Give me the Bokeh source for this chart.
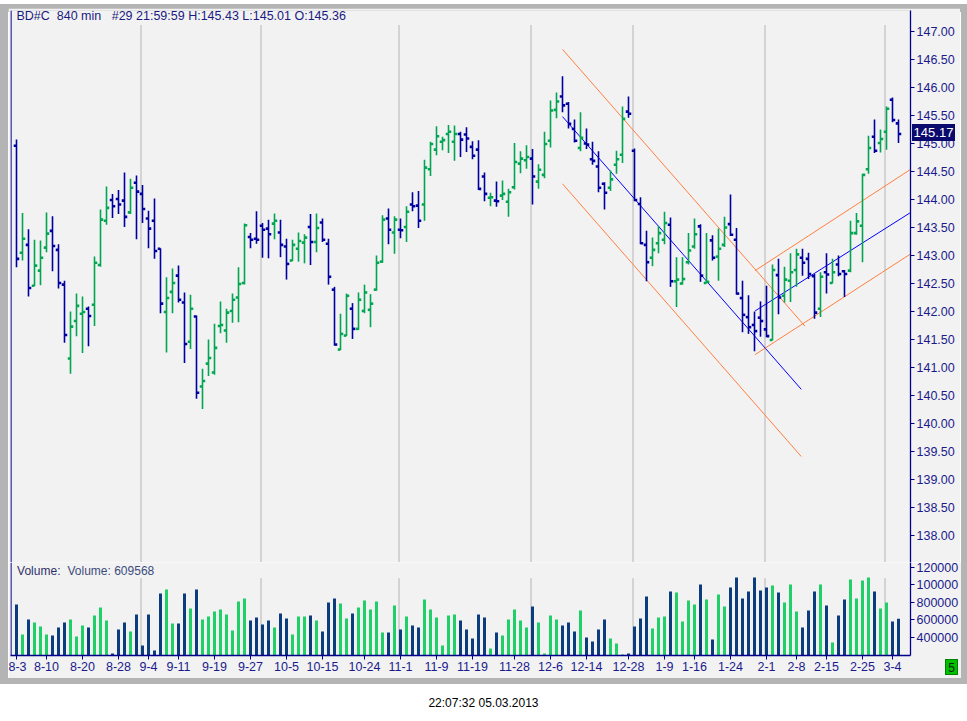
from bokeh.plotting import figure
from bokeh.models import (Range1d, FixedTicker, PrintfTickFormatter, Span, Label,
                          ColumnDataSource, Div)
from bokeh.layouts import column, row
from bokeh.embed import file_html
from bokeh.resources import INLINE

# ---------------- data ----------------
opens = [
    144.96, 143.05, 143.19, 142.46, 142.73, 143.14, 143.44, 143.10, 142.48, 141.16,
    141.83, 141.96, 142.05, 142.12, 142.83, 143.62, 143.99, 144.01, 143.98, 143.77,
    144.30, 144.10, 143.66, 143.62, 143.12, 141.99, 142.35, 142.64, 142.16, 141.46,
    141.91, 140.66, 141.07, 140.91, 141.74, 141.66, 142.01, 142.25, 142.51, 143.33,
    143.30, 143.53, 143.48, 143.57, 143.41, 143.16, 142.91, 143.12, 143.23, 143.51,
    143.24, 143.59, 143.21, 142.39, 141.32, 141.57, 142.05, 141.69, 142.01, 142.03,
    142.39, 142.89, 143.66, 143.41, 143.46, 143.51, 143.91, 143.89, 143.91, 144.54,
    144.89, 145.03, 145.17, 145.03, 145.17, 145.16, 144.94, 144.89, 144.41, 144.03,
    143.98, 144.07, 143.96, 144.22, 144.64, 144.70, 144.73, 144.32, 144.44, 145.05,
    145.60, 145.84, 145.71, 145.26, 144.92, 145.00, 144.72, 144.59, 144.28, 144.21,
    144.62, 144.80, 145.57, 144.87, 143.92, 143.19, 142.96, 143.22, 143.28, 143.55,
    142.54, 142.50, 142.88, 143.16, 143.52, 142.51, 143.27, 142.98, 143.19, 143.56,
    143.28, 142.24, 141.90, 141.76, 141.89, 141.68, 141.49, 142.65, 142.28, 142.55,
    142.74, 142.96, 142.94, 142.63, 142.05, 142.70, 142.51, 142.84, 142.72, 142.73,
    143.40, 143.53, 144.54, 145.12, 145.01, 145.21, 145.78, 145.36]

highs = [
    145.07, 143.76, 143.47, 143.28, 143.27, 143.77, 143.70, 143.20, 142.55, 142.00,
    142.32, 142.27, 142.09, 142.98, 143.82, 144.23, 144.10, 144.17, 144.48, 144.37,
    144.43, 144.26, 143.80, 144.02, 143.13, 142.61, 142.77, 142.82, 142.34, 142.30,
    141.93, 140.98, 141.50, 141.78, 142.18, 142.05, 142.32, 142.79, 143.57, 143.40,
    143.79, 143.58, 143.64, 143.75, 143.64, 143.30, 143.28, 143.41, 143.38, 143.74,
    143.75, 143.66, 143.30, 142.44, 141.96, 142.32, 142.15, 142.34, 142.48, 142.31,
    143.00, 143.72, 143.84, 143.70, 143.66, 143.88, 144.13, 144.15, 144.71, 145.03,
    145.31, 145.12, 145.33, 145.32, 145.21, 145.29, 145.04, 145.06, 144.48, 144.12,
    144.32, 144.34, 144.19, 145.01, 144.86, 144.97, 144.90, 144.63, 145.21, 145.77,
    145.91, 146.20, 145.74, 145.43, 145.56, 145.27, 145.03, 144.86, 144.31, 144.52,
    144.87, 145.66, 145.84, 144.91, 144.04, 143.44, 143.32, 143.53, 143.78, 143.68,
    142.97, 142.97, 143.40, 143.66, 143.56, 143.40, 143.36, 143.48, 143.69, 144.09,
    143.49, 142.55, 142.29, 142.00, 142.18, 142.46, 142.84, 142.94, 142.80, 143.04,
    143.12, 143.12, 143.05, 142.67, 142.70, 143.04, 142.94, 143.00, 142.74, 143.62,
    143.76, 144.46, 145.14, 145.43, 145.25, 145.66, 145.82, 145.43]

lows = [
    142.79, 142.91, 142.27, 142.45, 142.47, 143.06, 142.72, 142.41, 141.44, 140.89,
    141.56, 141.26, 141.38, 141.74, 142.80, 143.55, 143.67, 143.74, 143.51, 143.74,
    143.29, 143.58, 143.13, 142.94, 141.97, 141.27, 141.97, 142.16, 141.08, 141.33,
    140.44, 140.26, 140.85, 140.87, 141.61, 141.44, 141.80, 141.81, 142.48, 143.13,
    143.21, 142.96, 142.95, 143.29, 142.97, 142.57, 142.90, 142.89, 142.86, 142.83,
    143.06, 143.24, 142.48, 141.39, 141.31, 141.56, 141.51, 141.67, 141.97, 141.72,
    142.37, 142.87, 143.20, 143.03, 143.31, 143.24, 143.79, 143.49, 143.62, 144.42,
    144.79, 144.88, 144.83, 144.69, 144.76, 144.85, 144.72, 144.17, 143.97, 143.88,
    143.87, 143.99, 143.69, 144.18, 144.47, 144.55, 143.91, 144.19, 144.38, 144.93,
    145.45, 145.56, 145.27, 145.02, 144.86, 144.90, 144.62, 144.13, 143.82, 144.15,
    144.46, 144.65, 145.46, 143.97, 143.20, 142.54, 142.81, 143.04, 143.20, 142.44,
    142.08, 142.48, 142.84, 143.12, 142.53, 142.50, 142.91, 142.55, 143.15, 143.35,
    142.30, 141.63, 141.60, 141.29, 141.55, 141.54, 141.48, 141.95, 142.16, 142.17,
    142.44, 142.64, 142.58, 141.87, 141.90, 142.32, 142.50, 142.63, 142.26, 142.70,
    143.37, 142.88, 144.46, 144.83, 144.84, 144.89, 145.38, 145.01]

closes = [
    142.94, 143.30, 142.42, 142.82, 142.96, 143.39, 143.17, 142.51, 141.58, 141.73,
    142.10, 141.99, 141.92, 142.87, 143.64, 143.85, 143.88, 143.91, 143.69, 144.21,
    144.14, 143.83, 143.48, 143.08, 142.14, 142.24, 142.51, 142.21, 141.42, 142.05,
    140.55, 140.76, 141.17, 141.35, 141.76, 141.98, 142.21, 142.49, 143.54, 143.28,
    143.28, 143.46, 143.38, 143.62, 143.19, 142.85, 143.19, 143.26, 143.32, 143.24,
    143.49, 143.28, 142.62, 141.41, 141.60, 142.28, 141.69, 142.21, 142.34, 142.14,
    142.87, 143.64, 143.46, 143.64, 143.45, 143.78, 143.88, 143.62, 144.57, 144.99,
    145.13, 145.06, 145.21, 145.17, 145.07, 145.09, 144.78, 144.19, 144.10, 144.04,
    143.97, 144.10, 144.13, 144.67, 144.73, 144.76, 144.41, 144.53, 144.99, 145.59,
    145.75, 145.68, 145.35, 145.05, 145.10, 144.98, 144.69, 144.21, 144.12, 144.36,
    144.72, 145.44, 145.53, 143.99, 143.22, 142.88, 143.10, 143.40, 143.58, 142.54,
    142.57, 142.58, 143.09, 143.38, 142.64, 142.53, 142.96, 143.12, 143.50, 143.37,
    142.32, 141.94, 141.72, 141.65, 141.83, 141.56, 142.74, 142.25, 142.57, 142.70,
    143.02, 142.87, 142.67, 141.98, 142.62, 142.66, 142.70, 142.67, 142.67, 143.40,
    143.61, 144.44, 144.92, 144.87, 145.08, 145.62, 145.42, 145.17]

volumes = [
    773800, 430900, 602300, 568000, 522300, 430900, 419400, 510900, 568000, 602300,
    408000, 533700, 510900, 648000, 739500, 590900, 213700, 488000, 568000, 465200,
    659500, 305100, 659500, 248000, 899500, 945200, 556600, 556600, 899500, 728000,
    945200, 602300, 636600, 693800, 716600, 659500, 476600, 808100, 842300, 590900,
    625200, 545200, 590900, 510900, 670900, 613700, 430900, 636600, 636600, 648000,
    590900, 465200, 796600, 842300, 785200, 613700, 670900, 739500, 819500, 716600,
    808100, 453700, 453700, 762300, 488000, 636600, 533700, 510900, 830900, 716600,
    625200, 305100, 648000, 659500, 590900, 488000, 385100, 659500, 625200, 270800,
    453700, 419400, 602300, 716600, 590900, 510900, 750900, 568000, 213700, 648000,
    602300, 533700, 568000, 465200, 705200, 396600, 350900, 488000, 602300, 385100,
    328000, 202300, 213700, 522300, 613700, 865200, 499400, 625200, 636600, 922400,
    910900, 579500, 819500, 773800, 1002400, 830900, 373700, 888100, 750900, 968100,
    1082400, 842300, 922400, 1082400, 933800, 968100, 990900, 910900, 796600, 1002400,
    693800, 510900, 705200, 922400, 1002400, 762300, 339400, 648000, 830900, 1059500,
    842300, 1048100, 1082400, 922400, 728000, 796600, 579500, 609568]

date_tick_idx = [0, 5, 11, 17, 22, 27, 33, 39, 45, 51, 58, 64, 70, 76, 83, 89,
                 95, 102, 108, 113, 119, 125, 130, 135, 141, 146]
date_tick_labels = ["8-3", "8-10", "8-20", "8-28", "9-4", "9-11", "9-19", "9-27",
                    "10-5", "10-15", "10-24", "11-1", "11-9", "11-19", "11-28",
                    "12-6", "12-14", "12-28", "1-9", "1-16", "1-24", "2-1", "2-8",
                    "2-15", "2-25", "3-4"]
month_sep_idx = [20.75, 40.75, 63.75, 85.75, 102.75, 124.75, 144.75]

price_ticks = [138.0, 138.5, 139.0, 139.5, 140.0, 140.5, 141.0, 141.5, 142.0,
               142.5, 143.0, 143.5, 144.0, 144.5, 145.0, 145.5, 146.0, 146.5, 147.0]
vol_ticks = [400000, 600000, 800000, 1000000, 1200000]
vol_tick_labels = ["400000", "600000", "800000", "100000", "120000"]

# trend channels (bar index, price)
down_x0 = [91.0, 91.0, 91.0]
down_x1 = [131.4, 130.8, 130.8]
down_y0 = [146.68, 145.48, 144.28]
down_y1 = [141.74, 140.61, 139.41]
up_x0 = [123.1, 123.1, 123.1]
up_x1 = [148.9, 148.9, 148.9]
up_y0 = [142.73, 142.01, 141.23]
up_y1 = [144.53, 143.76, 143.02]
channel_colors = ["#ff7f3f", "#0000ff", "#ff7f3f"]

title_text = "BD#C\u00a0\u00a0840 min\u00a0\u00a0\u00a0#29 21:59:59 H:145.43 L:145.01 O:145.36"
last_price = 145.17
volume_name = "Volume:"
volume_text = "Volume: 609568"
timestamp = "22:07:32 05.03.2013"
window_no = "5"

# ---------------- styling ----------------
BG = "#F2F2F2"
FRAME = "#b4b4b4"
NAVY = "#00008B"
LBL = "#1a1a8c"
FONT = "Liberation Sans"
UP_BAR, DN_BAR = "#00a651", "#0000a0"
UP_VOL, DN_VOL = "#1fd068", "#0b3c7d"

n = len(closes)
idx = list(range(n))
up = [c >= o for o, c in zip(opens, closes)]
src = ColumnDataSource(dict(
    x=idx, o=opens, h=highs, l=lows, c=closes, v=volumes,
    xo=[i - 0.25 for i in idx], xc=[i + 0.25 for i in idx],
    col=[UP_BAR if u else DN_BAR for u in up],
    vcol=[UP_VOL if u else DN_VOL for u in up],
))

xr = Range1d(-1, 149)


def style_axis(ax):
    ax.axis_line_color = NAVY
    ax.axis_line_width = 1.3
    ax.major_tick_line_color = NAVY
    ax.major_tick_out = 4
    ax.major_tick_in = 0
    ax.minor_tick_line_color = None
    ax.major_label_standoff = 2
    ax.major_label_text_font = FONT
    ax.major_label_text_font_size = "12.5px"
    ax.major_label_text_color = LBL


# ---------------- price panel ----------------
PRICE_LO, PRICE_HI = 137.518, 147.375
p = figure(frame_width=900, frame_height=552, x_range=xr,
           y_range=Range1d(PRICE_LO, PRICE_HI),
           output_backend="svg", toolbar_location=None,
           x_axis_location=None, y_axis_location="right",
           min_border_left=2, min_border_right=50, min_border_top=2,
           min_border_bottom=0, background_fill_color=BG, border_fill_color=BG,
           outline_line_color=None)
p.grid.visible = False
ya = p.yaxis[0]
ya.ticker = FixedTicker(ticks=price_ticks)
ya.formatter = PrintfTickFormatter(format="%.2f")
style_axis(ya)

p.add_layout(Span(location=-0.92, dimension="height", line_color=NAVY, line_width=1.3))

p.segment(x0=month_sep_idx, x1=month_sep_idx, y0=[PRICE_LO] * len(month_sep_idx),
          y1=[147.11] * len(month_sep_idx), line_color="#7a7a7a", line_width=1,
          line_dash="1 1")

p.segment(x0=down_x0, x1=down_x1, y0=down_y0, y1=down_y1, line_color=channel_colors, line_width=1)
p.segment(x0=up_x0, x1=up_x1, y0=up_y0, y1=up_y1, line_color=channel_colors, line_width=1)

p.segment(x0="x", x1="x", y0="l", y1="h", line_color="col", line_width=1.6, source=src)
p.rect(x="xo", y="o", width=2.5, height=2.6, width_units="screen", height_units="screen",
       fill_color="col", line_color=None, source=src)
p.rect(x="xc", y="c", width=2.5, height=2.6, width_units="screen", height_units="screen",
       fill_color="col", line_color=None, source=src)

p.add_layout(Label(x=0, y=147.268, text=title_text, text_align="left",
                   text_baseline="middle", text_font=FONT, text_font_size="12.5px",
                   text_color="#1a1a80"))

# ---------------- volume panel ----------------
VOL_LO, VOL_HI = 190857, 1253714
pv = figure(frame_width=900, frame_height=93, x_range=xr,
            y_range=Range1d(VOL_LO, VOL_HI),
            output_backend="svg", toolbar_location=None,
            x_axis_location="below", y_axis_location="right",
            min_border_left=2, min_border_right=50, min_border_top=0,
            min_border_bottom=23, background_fill_color=BG, border_fill_color=BG,
            outline_line_color=None)
pv.grid.visible = False
pv.add_layout(Span(location=-0.92, dimension="height", line_color=NAVY, line_width=1.3))
pv.segment(x0=month_sep_idx, x1=month_sep_idx, y0=[VOL_LO] * len(month_sep_idx),
           y1=[1070000] * len(month_sep_idx), line_color="#7a7a7a", line_width=1,
           line_dash="1 1")
pv.vbar(x="x", top="v", bottom=0, width=0.5, fill_color="vcol", line_color=None, source=src)

va = pv.yaxis[0]
va.ticker = FixedTicker(ticks=vol_ticks)
va.major_label_overrides = {t: s for t, s in zip(vol_ticks, vol_tick_labels)}
style_axis(va)

xa = pv.xaxis[0]
xa.ticker = FixedTicker(ticks=date_tick_idx)
xa.major_label_overrides = {t: s for t, s in zip(date_tick_idx, date_tick_labels)}
style_axis(xa)

pv.add_layout(Label(x=0.1, y=1162000, text=volume_name, text_align="left",
                    text_baseline="middle", text_font=FONT, text_font_size="12px",
                    text_color="#30306a"))
pv.add_layout(Label(x=8.5, y=1162000, text=volume_text, text_align="left",
                    text_baseline="middle", text_font=FONT, text_font_size="12px",
                    text_color="#3c4c7c"))

# ---------------- window frame, price box, timestamp ----------------
def bar_div(w, h):
    return Div(text=f'<div style="width:{w}px; height:{h}px; background:{FRAME};"></div>',
               width=w, height=h, margin=0)


top_bar = bar_div(967, 8)
left_bar = bar_div(8, 670)
right_bar = bar_div(7, 670)

price_box = (f'<div style="position:absolute; left:912px; top:-554px; width:43px; height:17px; '
             f'background:#0a0a6e; color:#fff; font:13px \'Liberation Sans\', Arial, sans-serif; '
             f'line-height:17px; text-align:center; z-index:10;">{last_price:.2f}</div>')
win_box = (f'<div style="position:absolute; left:945px; top:-19px; width:13px; height:16px; '
           f'background:#00c000; border:1px solid #008000; color:#102010; '
           f'font:12px \'Liberation Sans\', Arial, sans-serif; line-height:16px; '
           f'text-align:center; z-index:10;">{window_no}</div>')
stamp_txt = (f'<div style="width:967px; height:6px; background:{FRAME};"></div>'
             f'<div style="width:967px; padding-top:12px; text-align:center; '
             f'font:12px \'Liberation Sans\', Arial, sans-serif; color:#000;">{timestamp}</div>')
stamp = Div(text=price_box + win_box + stamp_txt, width=967, height=42, margin=0,
            styles={"overflow": "visible", "position": "relative"})

layout = column(top_bar,
                row(left_bar, column(p, pv, spacing=0), right_bar, spacing=0),
                stamp, spacing=0)
open("out.html", "w").write(file_html(layout, INLINE))
